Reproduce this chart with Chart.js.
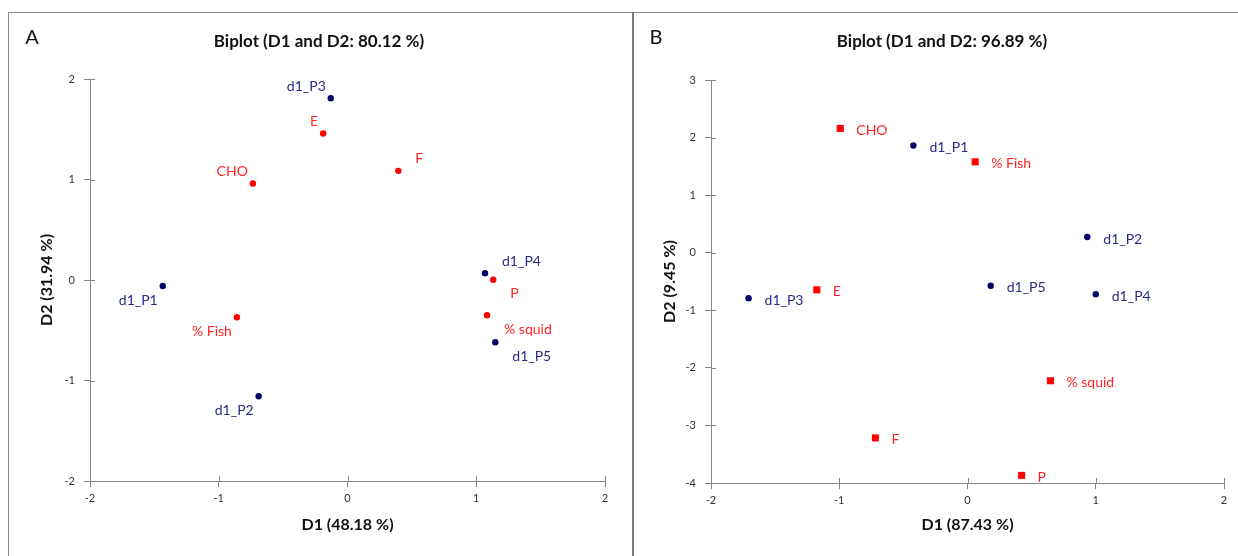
<!DOCTYPE html>
<html>
<head>
<meta charset="utf-8">
<script src="https://cdn.jsdelivr.net/npm/chart.js@4.4.1/dist/chart.umd.min.js"></script>
<style>
  html, body { margin: 0; padding: 0; background: #fff; }
  body { width: 1238px; height: 556px; position: relative; overflow: hidden; font-family: Lato, sans-serif; }
  .line { position: absolute; background: #8a8a8a; }
  canvas { position: absolute; }
</style>
</head>
<body>
<div class="line" style="left:8px;top:12px;width:1230px;height:1px;"></div>
<div class="line" style="left:8px;top:12px;width:1px;height:544px;"></div>
<div class="line" style="left:632px;top:12px;width:2px;height:544px;background:#7a7a7a;"></div>
<canvas id="chartA" width="623" height="543" style="left:9px;top:13px;width:623px;height:543px;"></canvas>
<canvas id="chartB" width="604" height="543" style="left:634px;top:13px;width:604px;height:543px;"></canvas>
<script>
// ---------- Panel A data ----------
const titleA = 'Biplot (D1 and D2: 80.12 %)';
const xTitleA = 'D1 (48.18 %)';
const yTitleA = 'D2 (31.94 %)';
const obsLabelsA = ['d1_P1', 'd1_P2', 'd1_P3', 'd1_P4', 'd1_P5'];
const obsXA = [-1.435, -0.69, -0.13, 1.068, 1.148];
const obsYA = [-0.06, -1.157, 1.808, 0.067, -0.62];
const varLabelsA = ['CHO', 'E', 'F', 'P', '% squid', '% Fish'];
const varXA = [-0.735, -0.189, 0.395, 1.132, 1.084, -0.859];
const varYA = [0.96, 1.457, 1.086, 0.003, -0.35, -0.37];
const xTicksA = [-2, -1, 0, 1, 2];
const yTicksA = [-2, -1, 0, 1, 2];

// ---------- Panel B data ----------
const titleB = 'Biplot (D1 and D2: 96.89 %)';
const xTitleB = 'D1 (87.43 %)';
const yTitleB = 'D2 (9.45 %)';
const obsLabelsB = ['d1_P1', 'd1_P2', 'd1_P3', 'd1_P4', 'd1_P5'];
const obsXB = [-0.422, 0.934, -1.707, 1.0, 0.181];
const obsYB = [1.863, 0.273, -0.789, -0.72, -0.575];
const varLabelsB = ['CHO', '% Fish', 'E', '% squid', 'F', 'P'];
const varXB = [-0.992, 0.06, -1.175, 0.647, -0.718, 0.422];
const varYB = [2.159, 1.579, -0.644, -2.224, -3.217, -3.868];
const xTicksB = [-2, -1, 0, 1, 2];
const yTicksB = [-4, -3, -2, -1, 0, 1, 2, 3];

// ---------- label placement (style, not data) ----------
const placeObsA = ['lb', 'lb', 'la', 'ra', 'rb'];
const placeVarA = ['la', 'la', 'ra', 'rb', 'rb', 'lb'];
const placeObsB = ['r', 'r', 'r', 'r', 'r'];
const placeVarB = ['r', 'r', 'r', 'r', 'r', 'r'];

const NAVY = '#000066';
const NAVY_TXT = '#2a2a86';
const RED = '#ff0000';
const RED_TXT = '#ff2424';
const AXIS = '#868686';
const FONT = 'Lato, "Open Sans", sans-serif';

function pts(xs, ys) { return xs.map((x, i) => ({ x: x, y: ys[i] })); }

const labelPlugin = {
  id: 'pointLabels',
  afterDatasetsDraw(chart) {
    const ctx = chart.ctx;
    ctx.save();
    ctx.font = '14px ' + FONT;
    chart.data.datasets.forEach((ds, di) => {
      const meta = chart.getDatasetMeta(di);
      meta.data.forEach((el, i) => {
        const p = ds.placements[i];
        const t = ds.labels[i];
        let x = el.x, y = el.y;
        ctx.fillStyle = ds.labelColor;
        ctx.textBaseline = 'middle';
        if (p === 'r') { ctx.textAlign = 'left'; x += 16; y += 2; }
        else {
          if (p[0] === 'l') { ctx.textAlign = 'right'; x -= 5; }
          else { ctx.textAlign = 'left'; x += 17; }
          if (p[1] === 'a') y -= 12; else y += 14;
        }
        ctx.fillText(t, x, y);
      });
    });
    ctx.restore();
  }
};

const decorPlugin = {
  id: 'decor',
  afterDraw(chart) {
    const o = chart.options.plugins.decor;
    const ctx = chart.ctx;
    const ca = chart.chartArea;
    ctx.save();
    // inner half of cross ticks
    ctx.strokeStyle = AXIS;
    ctx.lineWidth = 1;
    const xs = chart.scales.x, ys = chart.scales.y;
    xs.ticks.forEach(t => {
      const px = Math.round(xs.getPixelForValue(t.value)) + 0.5;
      ctx.beginPath(); ctx.moveTo(px, ca.bottom); ctx.lineTo(px, ca.bottom - 5); ctx.stroke();
    });
    ys.ticks.forEach(t => {
      const py = Math.round(ys.getPixelForValue(t.value)) + 0.5;
      ctx.beginPath(); ctx.moveTo(ca.left, py); ctx.lineTo(ca.left + 5, py); ctx.stroke();
    });
    // panel letter
    ctx.fillStyle = '#111';
    ctx.font = '20px ' + FONT;
    ctx.textAlign = 'center'; ctx.textBaseline = 'middle';
    ctx.fillText(o.letter, o.letterX, 25);
    // title
    ctx.font = 'bold 17px ' + FONT;
    ctx.fillText(o.title, o.titleX, 29);
    // x axis title
    ctx.font = 'bold 16px ' + FONT;
    ctx.fillText(o.xTitle, (ca.left + ca.right) / 2, 512);
    // y axis title
    ctx.translate(o.yTitleX, (ca.top + ca.bottom) / 2);
    ctx.rotate(-Math.PI / 2);
    ctx.fillText(o.yTitle, 0, 0);
    ctx.restore();
  }
};

function makeChart(id, cfg) {
  const tickFont = { family: FONT, size: 11 };
  return new Chart(document.getElementById(id), {
    type: 'scatter',
    data: {
      datasets: [
        { label: 'Observations', data: pts(cfg.obsX, cfg.obsY), labels: cfg.obsLabels, placements: cfg.placeObs,
          labelColor: NAVY_TXT, backgroundColor: NAVY, borderColor: NAVY, pointStyle: 'circle', pointRadius: 3.2, borderWidth: 0 },
        { label: 'Variables', data: pts(cfg.varX, cfg.varY), labels: cfg.varLabels, placements: cfg.placeVar,
          labelColor: RED_TXT, backgroundColor: RED, borderColor: RED, pointStyle: cfg.varStyle, pointRadius: cfg.varRadius, borderWidth: 0 }
      ]
    },
    options: {
      responsive: false,
      animation: false,
      layout: { padding: { left: 0, top: cfg.padTop, right: cfg.padRight, bottom: 0 } },
      scales: {
        x: {
          type: 'linear', min: cfg.xTicks[0], max: cfg.xTicks[cfg.xTicks.length - 1],
          afterBuildTicks: s => { s.ticks = cfg.xTicks.map(v => ({ value: v })); },
          afterFit: s => { s.height = cfg.xAxisH; },
          grid: { drawOnChartArea: false, drawTicks: true, tickLength: 6, color: AXIS },
          border: { color: AXIS, width: 1 },
          ticks: { font: tickFont, color: '#333', padding: 5, maxRotation: 0 }
        },
        y: {
          type: 'linear', min: cfg.yTicks[0], max: cfg.yTicks[cfg.yTicks.length - 1],
          afterBuildTicks: s => { s.ticks = cfg.yTicks.map(v => ({ value: v })); },
          afterFit: s => { s.width = cfg.yAxisW; },
          grid: { drawOnChartArea: false, drawTicks: true, tickLength: 6, color: AXIS },
          border: { color: AXIS, width: 1 },
          ticks: { font: tickFont, color: '#333', padding: 9 }
        }
      },
      plugins: {
        legend: { display: false },
        tooltip: { enabled: false },
        decor: { letter: cfg.letter, letterX: cfg.letterX, title: cfg.title, titleX: cfg.titleX,
                 xTitle: cfg.xTitle, yTitle: cfg.yTitle, yTitleX: cfg.yTitleX }
      }
    },
    plugins: [labelPlugin, decorPlugin]
  });
}

makeChart('chartA', {
  obsX: obsXA, obsY: obsYA, obsLabels: obsLabelsA, placeObs: placeObsA,
  varX: varXA, varY: varYA, varLabels: varLabelsA, placeVar: placeVarA,
  varStyle: 'circle', varRadius: 3.2,
  xTicks: xTicksA, yTicks: yTicksA,
  padTop: 66, padRight: 27, xAxisH: 75, yAxisW: 81,
  letter: 'A', letterX: 23, title: titleA, titleX: 310,
  xTitle: xTitleA, yTitle: yTitleA, yTitleX: 38
});

makeChart('chartB', {
  obsX: obsXB, obsY: obsYB, obsLabels: obsLabelsB, placeObs: placeObsB,
  varX: varXB, varY: varYB, varLabels: varLabelsB, placeVar: placeVarB,
  varStyle: 'rect', varRadius: 5,
  xTicks: xTicksB, yTicks: yTicksB,
  padTop: 67, padRight: 14, xAxisH: 73, yAxisW: 77,
  letter: 'B', letterX: 22, title: titleB, titleX: 308,
  xTitle: xTitleB, yTitle: yTitleB, yTitleX: 36
});
</script>
</body>
</html>
